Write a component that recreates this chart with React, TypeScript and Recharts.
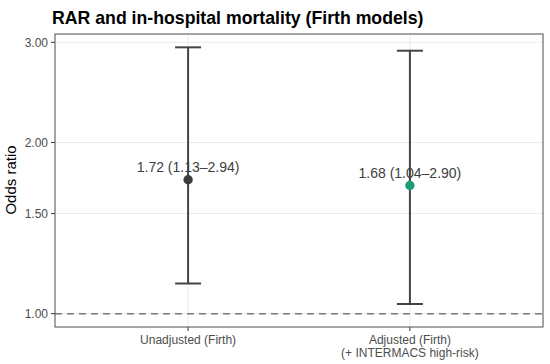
import { ComposedChart, Scatter, ErrorBar, XAxis, YAxis, CartesianGrid, ReferenceLine, Cell } from "recharts";

const MODELS = ["Unadjusted (Firth)", "Adjusted (Firth)\n(+ INTERMACS high-risk)"];
const ODDS = [1.72, 1.68];
const LOWER = [1.13, 1.04];
const UPPER = [2.94, 2.9];
const LABELS = ["1.72 (1.13–2.94)", "1.68 (1.04–2.90)"];
const POINT_COLORS = ["#3d3d3d", "#1b9e77"];
const Y_TICKS = [1, 1.5, 2, 3];

const W = 550;
const H = 364;
const FONT = "'Liberation Sans', Arial, Helvetica, sans-serif";
const GRID = "#ebebeb";
const INK = "#4d4d4d";

// panel box (ggplot theme_bw look)
const PANEL = { left: 55, top: 34, right: 543, bottom: 327 };

const data = MODELS.map((m, i) => ({
  x: i + 1,
  model: m,
  or: ODDS[i],
  err: [ODDS[i] - LOWER[i], UPPER[i] - ODDS[i]],
  label: LABELS[i],
  color: POINT_COLORS[i],
}));

function XTick({ x, y, payload }: any) {
  const lines = MODELS[payload.value - 1]?.split("\n") ?? [];
  return (
    <g>
      {lines.map((l, i) => (
        <text key={i} x={x} y={y + 11 + i * 13} textAnchor="middle" fill={INK} fontSize={12} fontFamily={FONT}>
          {l}
        </text>
      ))}
    </g>
  );
}

function PointShape({ cx, cy, payload }: any) {
  return (
    <g>
      <circle cx={cx} cy={cy} r={4.7} fill={payload.color} />
      <text x={cx} y={cy - 8} textAnchor="middle" fill="#404040" fontSize={14} fontFamily={FONT}>
        {payload.label}
      </text>
    </g>
  );
}

export default function App() {
  return (
    <div style={{ position: "fixed", left: 0, top: 0, width: W, height: H, background: "#fff" }}>
      <ComposedChart
        width={W}
        height={H}
        data={data}
        margin={{ top: PANEL.top, right: W - PANEL.right, bottom: 0, left: 0 }}
      >
        <CartesianGrid stroke={GRID} strokeWidth={1} />
        <XAxis
          type="number"
          dataKey="x"
          domain={[0.4, 2.6]}
          ticks={[1, 2]}
          allowDataOverflow
          height={H - PANEL.bottom}
          axisLine={false}
          tickSize={4}
          tickMargin={2}
          tickLine={{ stroke: "#333" }}
          tick={<XTick />}
        />
        <YAxis
          type="number"
          dataKey="or"
          scale="log"
          domain={[0.9475, 3.103]}
          ticks={Y_TICKS}
          allowDataOverflow
          width={PANEL.left}
          axisLine={false}
          tickSize={4}
          tickMargin={3}
          tickLine={{ stroke: "#333" }}
          tick={{ fill: INK, fontSize: 12, fontFamily: FONT }}
          tickFormatter={(v: number) => v.toFixed(2)}
        />
        <ReferenceLine y={1} stroke="#7a7a7a" strokeWidth={1.6} strokeDasharray="7 5" />
        <Scatter dataKey="or" isAnimationActive={false} shape={<PointShape />}>
          {data.map((d, i) => (
            <Cell key={i} fill={d.color} />
          ))}
          <ErrorBar dataKey="err" direction="y" width={13} stroke="#444" strokeWidth={2} />
        </Scatter>
      </ComposedChart>
      <svg width={W} height={H} style={{ position: "absolute", left: 0, top: 0, pointerEvents: "none" }}>
        <rect
          x={PANEL.left}
          y={PANEL.top}
          width={PANEL.right - PANEL.left}
          height={PANEL.bottom - PANEL.top}
          fill="none"
          stroke="#555"
          strokeWidth={1}
        />
        <text x={52} y={24} fontSize={17.7} fontWeight="bold" fill="#000" fontFamily={FONT}>
          RAR and in-hospital mortality (Firth models)
        </text>
        <text
          x={16}
          y={180}
          transform="rotate(-90 16 180)"
          textAnchor="middle"
          fontSize={15}
          fill="#000"
          fontFamily={FONT}
        >
          Odds ratio
        </text>
      </svg>
    </div>
  );
}
